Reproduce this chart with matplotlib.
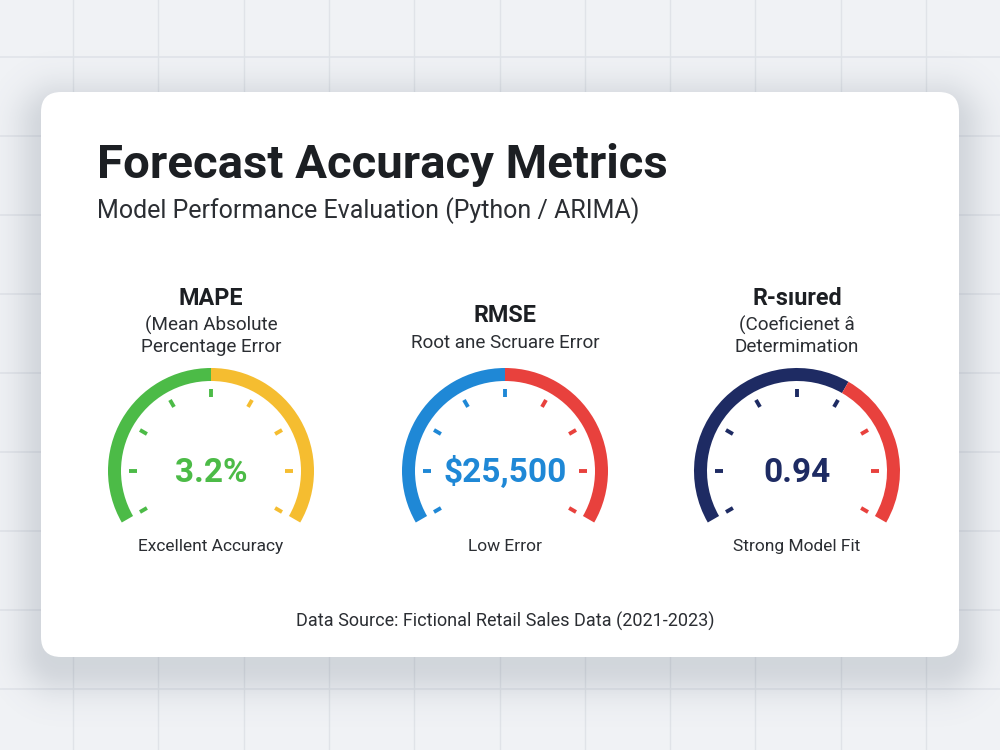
import numpy as np
import matplotlib
matplotlib.use("Agg")
import matplotlib.pyplot as plt
from matplotlib.patches import Wedge, FancyBboxPatch

plt.rcParams['font.family'] = ['Roboto', 'DejaVu Sans']

# ---- data ----
metric_names = ["MAPE", "RMSE", "R-sıured"]
metric_desc = [["(Mean Absolute", "Percentage Error"],
               ["Root ane Scruare Error"],
               ["(Coeﬁcienet â", "Determimation"]]
value_labels = ["3.2%", "$25,500", "0.94"]
status_labels = ["Excellent Accuracy", "Low Error", "Strong Model Fit"]
# fraction of the gauge sweep drawn in the first colour
split_frac = [0.5, 0.5, 0.625]
first_colors = ["#4cbb47", "#1f88d6", "#1e2b63"]
second_colors = ["#f5bd30", "#e8413d", "#e8413d"]

title = "Forecast Accuracy Metrics"
subtitle = "Model Performance Evaluation (Python / ARIMA)"
footer = "Data Source: Fictional Retail Sales Data (2021-2023)"

W, H = 1000, 750
fig = plt.figure(figsize=(10, 7.5), dpi=100)
ax = fig.add_axes([0, 0, 1, 1])
ax.set_xlim(0, W)
ax.set_ylim(H, 0)
ax.axis("off")

# background + grid
ax.add_patch(plt.Rectangle((0, 0), W, H, color="#f0f2f5", zorder=0))
for gx in np.arange(73, W, 85.3):
    ax.plot([gx, gx], [0, H], color="#e0e3e8", lw=1, zorder=1)
for gy in np.arange(57, H, 79):
    ax.plot([0, W], [gy, gy], color="#e0e3e8", lw=1.1, zorder=1)

# card
cx0, cy0, cx1, cy1, rad = 41, 92, 959, 657, 20

# soft shadow from a rounded box distance field
yy, xx = np.mgrid[0:H, 0:W] + 0.5
ccx, ccy = (cx0 + cx1) / 2, (cy0 + cy1) / 2 + 14
qx = np.abs(xx - ccx) - ((cx1 - cx0) / 2 - rad)
qy = np.abs(yy - ccy) - ((cy1 - cy0) / 2 - rad)
d = np.hypot(np.maximum(qx, 0), np.maximum(qy, 0)) + np.minimum(np.maximum(qx, qy), 0) - rad
alpha = 0.2 * np.exp(-np.maximum(d + 6, 0) ** 2 / (2 * 22 ** 2))
shadow = np.zeros((H, W, 4))
shadow[..., 0] = 0.35
shadow[..., 1] = 0.40
shadow[..., 2] = 0.47
shadow[..., 3] = alpha
ax.imshow(shadow, extent=(0, W, H, 0), zorder=2, interpolation="bilinear")

card = FancyBboxPatch((cx0 + rad, cy0 + rad), cx1 - cx0 - 2 * rad, cy1 - cy0 - 2 * rad,
                      boxstyle="round,pad=%d" % rad, fc="white", ec="none", zorder=3)
ax.add_patch(card)

ax.set_xlim(0, W)
ax.set_ylim(H, 0)

# titles
ax.text(97, 178, title, fontsize=34.1, fontweight="bold", color="#1c1f23",
        ha="left", va="baseline", zorder=5)
ax.text(97, 218, subtitle, fontsize=18, color="#2b2e33",
        ha="left", va="baseline", zorder=5)

# gauges
centers = [211, 505, 797]
gy_c = 471
r_out, arc_w = 103, 13
a_start, a_end = 210, -30
tick_angles = np.arange(-30, 211, 30)

for i, gx in enumerate(centers):
    # header text
    n_desc = len(metric_desc[i])
    top = 305 if n_desc == 2 else 322
    ax.text(gx, top, metric_names[i], fontsize=16.8, fontweight="bold", color="#1c1f23",
            ha="center", va="baseline", zorder=5)
    for j, line in enumerate(metric_desc[i]):
        ax.text(gx, top + 26 + j * 21, line, fontsize=13.6, color="#2b2e33",
                ha="center", va="baseline", zorder=5)

    # arc (screen angles -> data angles are negated because y is inverted)
    a_split = a_start - split_frac[i] * (a_start - a_end)
    ax.add_patch(Wedge((gx, gy_c), r_out, -a_start, -a_split, width=arc_w,
                       fc=first_colors[i], ec="none", zorder=5))
    ax.add_patch(Wedge((gx, gy_c), r_out, -a_split, -a_end, width=arc_w,
                       fc=second_colors[i], ec="none", zorder=5))

    # ticks
    for a in tick_angles:
        c = first_colors[i] if a >= a_split - 1e-6 else second_colors[i]
        t = np.radians(a)
        r1, r2 = 74, 82
        ax.plot([gx + r1 * np.cos(t), gx + r2 * np.cos(t)],
                [gy_c - r1 * np.sin(t), gy_c - r2 * np.sin(t)],
                color=c, lw=2.8, solid_capstyle="butt", zorder=5)

    ax.text(gx, 482, value_labels[i], fontsize=24, fontweight="bold", color=first_colors[i],
            ha="center", va="baseline", zorder=6)
    ax.text(gx, 551, status_labels[i], fontsize=12.5, color="#2b2e33",
            ha="center", va="baseline", zorder=5)

ax.text(505, 627, footer, fontsize=13, color="#2b2e33", ha="center", va="baseline", zorder=5)

fig.savefig("out.png", dpi=100)
